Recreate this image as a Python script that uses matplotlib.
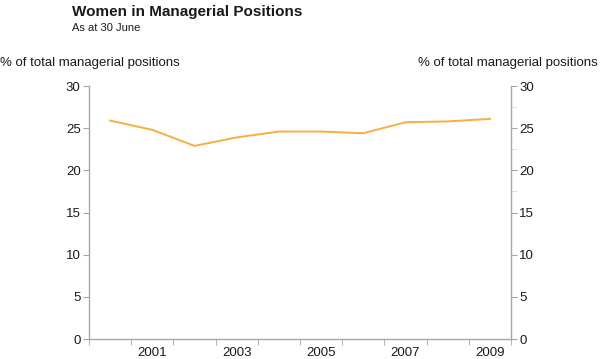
import matplotlib
matplotlib.use("Agg")
import matplotlib.pyplot as plt
import numpy as np

plt.rcParams['font.family'] = ['Liberation Sans', 'DejaVu Sans']

years = [2000, 2001, 2002, 2003, 2004, 2005, 2006, 2007, 2008, 2009]
women_pct = [25.9, 24.8, 22.9, 23.9, 24.6, 24.6, 24.4, 25.7, 25.8, 26.1]
label_years = [2001, 2003, 2005, 2007, 2009]
y_ticks = [0, 5, 10, 15, 20, 25, 30]

grey = '#a6a6a6'
text_col = '#1a1a1a'

fig = plt.figure(figsize=(6, 3.59), dpi=100)
ax = fig.add_axes([89/600, 1 - 339/359, 422/600, 253/359])

ax.plot(years, women_pct, color='#f9ad42', lw=1.4)

ax.set_xlim(1999.5, 2009.5)
ax.set_ylim(0, 30)

ax.spines['top'].set_visible(False)
for s in ['left', 'right', 'bottom']:
    ax.spines[s].set_color(grey)
    ax.spines[s].set_linewidth(1)

ax.set_xticks(label_years)
ax.set_xticklabels([str(y) for y in label_years])
ax.set_xticks(np.arange(1999.5, 2010, 1), minor=True)
ax.tick_params(axis='x', which='major', length=0, pad=6, labelsize=9.5, labelcolor=text_col)
ax.tick_params(axis='x', which='minor', length=4, color=grey, direction='out')

ax.set_yticks(y_ticks)
ax.tick_params(axis='y', which='major', left=True, right=True, labelleft=True,
               labelright=True, length=4, color=grey, labelsize=9.5,
               labelcolor=text_col, pad=2)
ax.set_yticks([17.5, 22.5, 27.5], minor=True)
ax.tick_params(axis='y', which='minor', left=False, right=True, length=4, color='#d8d8d8')

fig.text(72/600, 1 - 16/359, 'Women in Managerial Positions', fontsize=11,
         fontweight='bold', color=text_col, va='baseline')
fig.text(72/600, 1 - 31/359, 'As at 30 June', fontsize=8, color=text_col, va='baseline')
fig.text(0.0, 1 - 66/359, '% of total managerial positions', fontsize=9.5,
         color=text_col, va='baseline', ha='left')
fig.text(598/600, 1 - 66/359, '% of total managerial positions', fontsize=9.5,
         color=text_col, va='baseline', ha='right')

fig.savefig('out.png', dpi=100)
